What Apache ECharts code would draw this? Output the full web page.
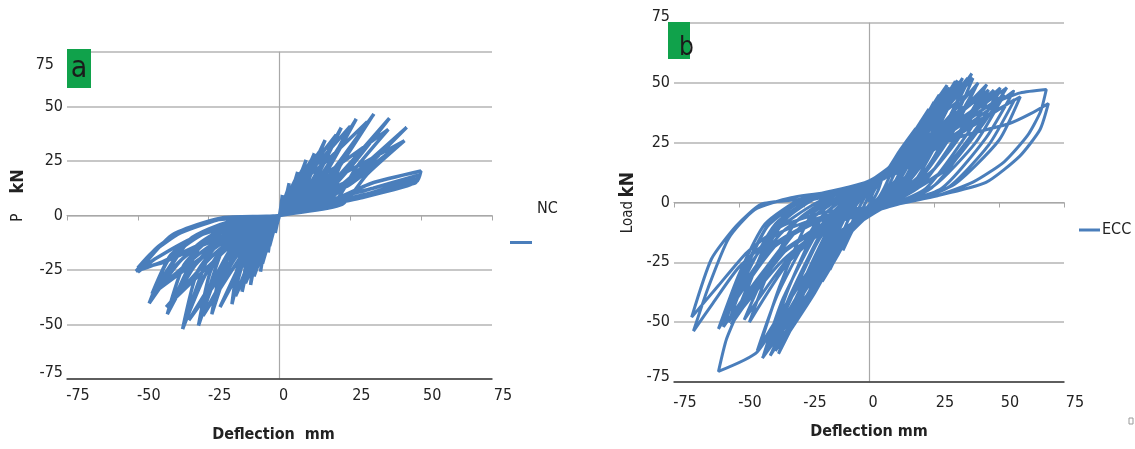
<!DOCTYPE html>
<html>
<head>
<meta charset="utf-8">
<script src="https://cdn.jsdelivr.net/npm/echarts@6/dist/echarts.min.js"></script>
<style>
html,body{margin:0;padding:0;background:#fff;}
#chart{width:1135px;height:449px;}
</style>
</head>
<body>
<div id="chart"></div>
<script>
// ---- data ----
const axisMin = -75, axisMax = 75, axisStep = 25;
const seriesNames = ['NC', 'ECC'];
const panelLetters = ['a', 'b'];
const xTitle = ['Deflection  mm', 'Deflection mm'];

// NC specimen: [deflection mm, load kN], cycle by cycle
const ncCurve = [
[0,0],
[0.5,4],[1,9.4],[0.6,4],[0,0],[-0.6,-2.5],[-1.5,-8],[-0.9,-4],[0,0],
[0.4,3],[0.8,7],[0.5,3],[0,0],[-0.5,-2],[-1.2,-6],[-0.7,-3],[0,0],
[1,2.7],[2,6.7],[3.4,14.8],[2.2,7.4],[1.4,3],[0.5,0.7],[0,0],[-1.2,-0.9],[-2.4,-5.1],[-3.4,-11],[-4,-17],[-3,-8.5],[-1.8,-3.4],[-0.6,-0.7],[0,0],
[0.6,3.8],[1.5,6.6],[3,12],[2.1,6.6],[1.5,1.8],[0,0],[-0.7,-1.7],[-1.6,-4.9],[-3.5,-14],[-2.1,-6.3],[-1,-2.1],[0,0],
[1.9,3.6],[3.8,9],[6.4,20],[4.2,10],[2.6,4],[1,1],[0,0],[-2,-1.3],[-4,-7.7],[-5.7,-16.8],[-6.7,-25.8],[-5,-12.9],[-3,-5.2],[-1,-1],[0,0],
[1.2,5.4],[2.9,9.4],[5.8,17],[4.1,9.4],[2.9,2.6],[0,0],[-1.2,-2.6],[-2.7,-7.7],[-6,-22],[-3.6,-9.9],[-1.8,-3.3],[0,0],
[2.8,4.6],[5.6,11.5],[9.4,25.5],[6.1,12.8],[3.8,5.1],[1.4,1.3],[0,0],[-3.1,-1.6],[-6.1,-9.6],[-8.7,-20.7],[-10.2,-31.9],[-7.7,-16],[-4.6,-6.4],[-1.5,-1.3],[0,0],
[1.7,7],[4.3,12.1],[8.5,22],[6,12.1],[4.3,3.3],[0,0],[-1.8,-3.4],[-4,-9.8],[-9,-28],[-5.4,-12.6],[-2.7,-4.2],[0,0],
[2.4,3.1],[4.2,7.7],[9.4,25.5],[5.2,10.2],[2.8,6.4],[1.1,3.8],[0,0],[-4.1,-2.6],[-7.1,-9.6],[-10.2,-31.9],[-8.7,-16],[-6.1,-7],[-3.1,-1.9],[0,0],
[3.7,5.1],[7.4,12.8],[12.3,28.5],[8,14.3],[4.9,5.7],[1.8,1.4],[0,0],[-4,-1.8],[-7.9,-10.5],[-11.2,-22.8],[-13.2,-35],[-9.9,-17.5],[-5.9,-7],[-2,-1.4],[0,0],
[2.3,8.3],[5.8,14.3],[11.5,26],[8.1,14.3],[5.8,3.9],[0,0],[-2.4,-3.7],[-5.4,-10.9],[-12,-31],[-7.2,-14],[-3.6,-4.7],[0,0],
[3.1,3.4],[5.5,8.6],[12.3,28.5],[6.8,11.4],[3.7,7.1],[1.5,4.3],[0,0],[-5.3,-2.8],[-9.2,-10.5],[-13.2,-35],[-11.2,-17.5],[-7.9,-7.7],[-4,-2.1],[0,0],
[4.8,6.2],[9.7,15.6],[16.1,34.6],[10.5,17.3],[6.4,6.9],[2.4,1.7],[0,0],[-5,-2],[-10.1,-12.2],[-14.3,-26.5],[-16.8,-40.7],[-12.6,-20.4],[-7.6,-8.1],[-2.5,-1.6],[0,0],
[3,9.9],[7.5,17],[15,31],[10.5,17],[7.5,4.7],[0,0],[-3.1,-4.4],[-7,-13],[-15.5,-37],[-9.3,-16.7],[-4.7,-5.6],[0,0],
[4,4.2],[7.2,10.4],[16.1,34.6],[8.9,13.8],[4.8,8.7],[1.9,5.2],[0,0],[-6.7,-3.3],[-11.8,-12.2],[-16.8,-40.7],[-14.3,-20.4],[-10.1,-9],[-5,-2.4],[0,0],
[6.5,7.3],[13.1,18.1],[21.8,40.3],[14.2,20.2],[8.7,8.1],[3.3,2],[0,0],[-7.2,-2.3],[-14.3,-13.6],[-20.3,-29.4],[-23.9,-45.3],[-17.9,-22.7],[-10.8,-9.1],[-3.6,-1.8],[0,0],
[4,11.8],[10,20.4],[20,37],[14,20.4],[10,5.6],[0,0],[-4.2,-5],[-9.5,-14.7],[-21,-42],[-12.6,-18.9],[-6.3,-6.3],[0,0],
[5.5,4.8],[9.8,12.1],[21.8,40.3],[12,16.1],[6.5,10.1],[2.6,6],[0,0],[-9.6,-3.6],[-16.7,-13.6],[-23.9,-45.3],[-20.3,-22.7],[-14.3,-10],[-7.2,-2.7],[0,0],
[8.1,8],[16.3,19.9],[27.1,44.3],[17.6,22.2],[10.8,8.9],[4.1,2.2],[0,0],[-8.6,-2.5],[-17.2,-15.2],[-24.3,-32.8],[-28.6,-50.5],[-21.5,-25.3],[-12.9,-10.1],[-4.3,-2],[0,0],
[5,13.1],[12.5,22.6],[25,41],[17.5,22.6],[12.5,6.2],[0,0],[-5.4,-5.5],[-12.2,-16.1],[-27,-46],[-16.2,-20.7],[-8.1,-6.9],[0,0],
[6.8,5.3],[12.2,13.3],[27.1,44.3],[14.9,17.7],[8.1,11.1],[3.3,6.6],[0,0],[-11.4,-4],[-20,-15.2],[-28.6,-50.5],[-24.3,-25.3],[-17.2,-11.1],[-8.6,-3],[0,0],
[10,8.4],[20,21],[33.3,46.6],[21.6,23.3],[13.3,9.3],[5,2.3],[0,0],[-10.3,-2.6],[-20.5,-15.6],[-29.1,-33.9],[-34.2,-52.1],[-25.7,-26.1],[-15.4,-10.4],[-5.1,-2.1],[0,0],
[6.2,13.8],[15.5,23.7],[31,43],[21.7,23.7],[15.5,6.5],[0,0],[-6.4,-5.8],[-14.4,-16.8],[-32,-48],[-19.2,-21.6],[-9.6,-7.2],[0,0],
[8.3,5.6],[15,14.1],[33.3,46.6],[18.3,18.6],[10,11.7],[4,7],[0,0],[-13.7,-4.2],[-23.9,-15.6],[-34.2,-52.1],[-29.1,-26.1],[-20.5,-11.5],[-10.3,-3.1],[0,0],
[11.6,8],[23.3,20.1],[38.8,44.6],[25.2,22.3],[15.5,8.9],[5.8,2.2],[0,0],[-11.9,-2.3],[-23.8,-13.6],[-33.7,-29.4],[-39.6,-45.3],[-29.7,-22.7],[-17.8,-9.1],[-5.9,-1.8],[0,0],
[7.7,12.6],[19.2,21.7],[38.4,39.5],[26.9,21.7],[19.2,5.9],[0,0],[-8,-5],[-18,-14.7],[-40,-42],[-24,-18.9],[-12,-6.3],[0,0],
[9.7,5.4],[17.5,13.4],[38.8,44.6],[21.3,17.8],[11.6,11.2],[4.7,6.7],[0,0],[-15.8,-3.6],[-27.7,-13.6],[-39.6,-45.3],[-33.7,-22.7],[-23.8,-10],[-11.9,-2.7],[0,0],
[13.5,7.3],[26.9,18.2],[44.9,40.5],[29.2,20.3],[18,8.1],[6.7,2],[0,0],[-13.8,-2],[-27.6,-12.1],[-39.1,-26.2],[-46,-40.3],[-34.5,-20.2],[-20.7,-8.1],[-6.9,-1.6],[0,0],
[8.8,11],[22,18.9],[44.1,34.3],[30.9,18.9],[22,5.1],[0,0],[-9,-4.3],[-20.3,-12.6],[-45,-36],[-27,-16.2],[-13.5,-5.4],[0,0],
[11.2,4.9],[20.2,12.2],[44.9,40.5],[24.7,16.2],[13.5,10.1],[5.4,6.1],[0,0],[-18.4,-3.2],[-32.2,-12.1],[-46,-40.3],[-39.1,-20.2],[-27.6,-8.9],[-13.8,-2.4],[0,0],
[11,4.1],[19.8,10.3],[44.1,34.3],[24.3,13.7],[13.2,8.6],[5.3,5.1],[0,0],[-18,-2.9],[-31.5,-10.8],[-45,-36],[-38.3,-18],[-27,-7.9],[-13.5,-2.2],[0,0],
[17,6],[32.5,14.8],[49.9,20.4],[48.5,15.8],[30,9.6],[15,4.8],[0,0],[-20,-1],[-34,-6.6],[-43.5,-15],[-50.6,-25.5],[-41,-21],[-25.7,-12],[-8,-4.4],[0,0],
[20,8],[33,12.5],[49,18.5],[48,15],[28,9],[0,0],[-20,-1.5],[-35,-8],[-45,-17],[-50,-24],[-42,-22],[-26,-13],[-9,-5],[0,0],
[18,5.5],[34,11],[48,17],[46,14],[30,8.5],[14,4],[0,0],[-22,-2],[-38,-9],[-50,-26],[-44,-20],[-30,-10],[-12,-3],[0,0]
];

// ECC specimen: [deflection mm, load kN], cycle by cycle
const eccCurve = [
[0,0],
[2,5],[5,10],[3.5,5],[1.5,1],[0,-1],[-2,-4],[-5,-10],[-3.5,-5],[-1.5,-0.5],[0,3],
[3,7],[6,11],[10,18],[7.5,10],[4,2.5],[0,-2],[-3,-6],[-6.5,-12],[-10,-20],[-7.5,-11],[-4,-2.5],[0,5],
[4,9],[9,15],[15,26],[11,15],[6,4],[0,-2.5],[-4.5,-7],[-9.5,-16],[-15,-28],[-11,-15],[-6,-3],[0,6],
[5,10],[12,19],[20,34],[15,20],[8,5],[0,-3],[-6,-8],[-13,-20],[-20,-36],[-15,-20],[-8,-4],[-2,3],[0,7],
[6,12],[12,22],[18,31],[14,16],[8,4],[0,-3],[-6,-10],[-12,-22],[-18,-33],[-14,-16],[-7,-2],[0,7],
[6,11],[15,23],[25,42],[19,25],[10,6],[0,-3],[-7,-9],[-16,-25],[-25,-44],[-19,-25],[-10,-5],[-3,3],[0,8],
[6,12],[14,24],[23,39],[18,22],[11,8],[2,-2],[-7,-11],[-15,-26],[-23,-41],[-18,-22],[-10,-3],[0,8],
[7,12],[18,26],[29,47],[22,28],[12,7],[0,-3.5],[-8,-10],[-19,-29],[-30,-52],[-23,-31],[-12,-6],[-4,3],[0,8],
[8,14],[17,28],[27,45],[21,24],[12,6],[2,-3],[-9,-14],[-18,-30],[-28,-49],[-22,-27],[-13,-5],[-4,4],[0,8.5],
[6,10],[16,27],[30,49],[24,33],[14,14],[4,2],[0,-3],[-8,-12],[-20,-34],[-36,-62],[-29,-42],[-17,-16],[-6,0],[0,7],
[7,12.5],[20,28],[33.2,50.7],[25,31],[14,8],[0,-4],[-9,-12],[-22,-36],[-34.8,-63.2],[-27,-40],[-14,-8],[-5,3],[0,8.5],
[8,15],[19,31],[31,48],[24,27],[15,10],[2,-3],[-9,-15],[-21,-38],[-33,-58],[-26,-35],[-15,-10],[-5,3],[0,9],
[7,11],[18,27],[34,51],[28,36],[18,16],[6,1],[0,-3.5],[-9,-13],[-22,-37],[-38,-64],[-30,-45],[-18,-18],[-7,1],[0,8],
[8,13],[22,30],[36,52],[27,32],[15,8],[0,-4],[-10,-12],[-24,-36],[-38,-60],[-30,-38],[-16,-8],[-6,3],[0,8.5],
[9,13],[24,31],[39.5,53.9],[30,33],[17,8],[0,-4],[-11,-13],[-27,-38],[-40.6,-64],[-33,-40],[-18,-9],[-7,3],[0,9],
[9,14],[22,33],[37,50],[28,29],[17,11],[3,-2],[-10,-15],[-25,-41],[-39,-62],[-31,-36],[-18,-6],[-7,4],[0,9],
[8,12],[21,29],[38,52],[31,36],[20,15],[7,2],[0,-3],[-10,-14],[-24,-39],[-41,-65],[-32,-45],[-20,-17],[-8,2],[0,8.5],
[10,13],[26,30],[42,50],[32,31],[18,7],[2,-3],[-12,-13],[-28,-36],[-43,-62],[-35,-38],[-20,-8],[-8,3],[0,9],
[10,15],[25,34],[41,48],[31,27],[19,9],[4,-2],[-12,-16],[-27,-40],[-42,-60],[-34,-34],[-22,-5],[-9,4],[0,9],
[9,12],[23,31],[40,52],[33,35],[22,14],[8,1],[0,-3],[-12,-7],[-30,-22],[-48,-49],[-40,-30],[-28,-12],[-14,0],[0,8],
[11,13],[28,30],[45.3,49.3],[35,30],[20,7],[3,-3],[-14,-8],[-34,-22],[-51.5,-48],[-44,-28],[-34,-8],[-22,1.5],[0,8.5],
[10,14],[26,31],[44,46],[34,26],[20,8],[3,-3],[-15,-9],[-33,-24],[-50,-46],[-43,-26],[-32,-7],[-20,2],[0,8.5],
[10,12],[27,30],[46,47],[38,33],[25,14],[9,1],[0,-3],[-13,-6],[-32,-20],[-53,-51],[-44,-34],[-30,-14],[-15,-1],[0,8],
[12,13],[30,29],[48,47],[38,29],[22,6],[4,-3],[-14,-9],[-31,-25],[-46,-50],[-39,-30],[-28,-8],[-15,2],[0,8.5],
[11,13],[30,31],[50,46],[42,32],[28,13],[10,1],[0,-3],[-14,-5],[-35,-17],[-55,-47],[-47,-32],[-33,-12],[-17,-0.5],[0,8],
[13,14],[32,30],[50.5,47.9],[40,28],[24,6],[4,-3],[-15,-6],[-36,-18],[-56,-48.6],[-48,-28],[-38,-8],[-25,1.5],[0,8.5],
[12,14],[31,29],[52,45],[41,25],[25,7],[4,-3],[-15,-8],[-35,-22],[-54,-50],[-47,-30],[-36,-9],[-22,1.5],[0,8.5],
[12,14],[33,32],[53,48],[44,33],[30,14],[12,2],[0,-3],[-15,-5],[-37,-18],[-57,-50],[-50,-33],[-36,-12],[-20,0],[0,8.5],
[14,14],[35,30],[55.6,46.5],[45,27],[28,6],[5,-2.5],[-16,-6],[-38,-20],[-57.9,-52.8],[-50,-30],[-40,-9],[-26,1.5],[0,8.5],
[14,15],[34,28],[56,43],[46,24],[30,6],[5,-2.5],[-16,-8],[-37,-24],[-56,-52],[-49,-32],[-39,-10],[-25,1],[0,8.5],
[15,15],[37,31],[58.2,44.2],[50,26],[32,7],[6,-2],[-12.5,-15.5],[-27.9,-36.4],[-43,-62.5],[-57.9,-70.6],[-54.8,-57],[-48.3,-40.3],[-40,-18],[-30,-2],[-15,3],[0,9],
[20,20],[35,33],[49,42],[58.2,45.8],[68.2,47.2],[66,38],[61,28],[52,17],[40,8.5],[25,2.5],[0,-2],[-16.7,-4],[-33.2,-9.7],[-46.9,-20.8],[-57.9,-34.7],[-68.2,-47.9],[-60.6,-23.6],[-51,-9.7],[-41.4,-0.7],[-26.3,1.4],[0,8.8],
[8,12.5],[22,22],[36,27.8],[54,33],[62,37],[69,41.4],[65.8,30.5],[58,19.4],[45,8.4],[26,2.8],[0,-3],[-18,-6],[-35,-13],[-50,-27],[-60,-42],[-67.5,-53.7],[-62,-36],[-54,-15],[-44,-3],[-30,2],[-10,5],[0,6]
];

// ---- styling ----
const FONT = "'Liberation Sans Narrow','DejaVu Sans Condensed','Liberation Sans',sans-serif";
const BLUE = '#4a7ebb';
const GRIDC = '#b4b4b4';
const TXT = '#222';
const GREEN = '#10a24b';

function xLabelCfg(margin) {
  const base = {fontFamily: FONT, fontSize: 16, color: TXT};
  return {
    margin: margin, fontFamily: FONT, fontSize: 16, color: TXT,
    formatter: v => v === 0 ? '{z|0}' : '{n|' + v + '}',
    rich: {
      n: Object.assign({padding: [0, 0, 0, 22]}, base),
      z: Object.assign({padding: [0, 0, 0, 8]}, base)
    }
  };
}
function yLabelCfg(topPad, bottomPad) {
  const base = {fontFamily: FONT, fontSize: 16, color: TXT};
  return {
    margin: 4, fontFamily: FONT, fontSize: 16, color: TXT,
    formatter: v => v === axisMax ? '{t|' + v + '}' : (v === axisMin ? '{b|' + v + '}' : '{n|' + v + '}'),
    rich: {
      n: Object.assign({}, base),
      t: Object.assign({padding: topPad}, base),
      b: Object.assign({padding: bottomPad}, base)
    }
  };
}
function labelXAxis(grid, margin, name, nameGap, namePad) {
  return {
    gridIndex: grid, type: 'value', min: axisMin, max: axisMax, interval: axisStep,
    position: 'bottom',
    axisLine: {onZero: false, lineStyle: {color: '#3c3c3c', width: 1.5}},
    axisTick: {show: false}, splitLine: {show: false},
    axisLabel: xLabelCfg(margin),
    name: name, nameLocation: 'middle', nameGap: nameGap,
    nameTextStyle: {fontFamily: FONT, fontSize: 16, fontWeight: 'bold', color: TXT, padding: namePad}
  };
}
function zeroXAxis(grid) {
  return {
    gridIndex: grid, type: 'value', min: axisMin, max: axisMax, interval: axisStep,
    position: 'bottom',
    axisLine: {onZero: true, lineStyle: {color: '#a8a8a8', width: 1.2}},
    axisTick: {show: true, length: 5, lineStyle: {color: '#a8a8a8'}},
    axisLabel: {show: false}, splitLine: {show: false}
  };
}
function labelYAxis(grid, labelCfg, name, nameGap, nameStyle) {
  return {
    gridIndex: grid, type: 'value', min: axisMin, max: axisMax, interval: axisStep,
    axisLine: {show: false, onZero: false}, axisTick: {show: false},
    splitLine: {show: true, lineStyle: {color: GRIDC, width: 1.5}},
    axisLabel: labelCfg,
    name: name, nameLocation: 'middle', nameGap: nameGap, nameTextStyle: nameStyle
  };
}
function zeroYAxis(grid) {
  return {
    gridIndex: grid, type: 'value', min: axisMin, max: axisMax, interval: axisStep,
    axisLine: {show: true, onZero: true, lineStyle: {color: '#a8a8a8', width: 1.2}},
    axisTick: {show: false}, axisLabel: {show: false}, splitLine: {show: false}
  };
}

const chart = echarts.init(document.getElementById('chart'), null, {renderer: 'canvas'});
chart.setOption({
  animation: false,
  backgroundColor: '#fff',
  grid: [
    {left: 67, top: 52, width: 425, height: 327},
    {left: 674, top: 23, width: 390, height: 359}
  ],
  xAxis: [
    labelXAxis(0, 9, xTitle[0], 48, [0, 12, 0, 0]),
    labelXAxis(1, 13, xTitle[1], 42, [0, 0, 0, 0]),
    zeroXAxis(0),
    zeroXAxis(1)
  ],
  yAxis: [
    labelYAxis(0, yLabelCfg([26, 9, 0, 0], [0, 0, 13, 0]),
      '{p|P}{g|}{k|kN}', 40,
      {padding: [0, 0, 0, 40], rich: {
        p: {fontFamily: FONT, fontSize: 15, color: TXT},
        g: {width: 20},
        k: {fontFamily: FONT, fontSize: 18, fontWeight: 'bold', color: TXT}
      }}),
    labelYAxis(1, yLabelCfg([0, 0, 12, 0], [0, 0, 10, 0]),
      '{l|Load} {k|kN}', 36,
      {rich: {
        l: {fontFamily: FONT, fontSize: 15, color: TXT},
        k: {fontFamily: FONT, fontSize: 19, fontWeight: 'bold', color: TXT}
      }}),
    zeroYAxis(0),
    zeroYAxis(1)
  ],
  series: [
    {name: seriesNames[0], type: 'line', xAxisIndex: 0, yAxisIndex: 0, data: ncCurve,
     showSymbol: false, smooth: 0.2, lineStyle: {color: BLUE, width: 3.5}, itemStyle: {color: BLUE}, z: 3},
    {name: seriesNames[1], type: 'line', xAxisIndex: 1, yAxisIndex: 1, data: eccCurve,
     showSymbol: false, smooth: 0.2, lineStyle: {color: BLUE, width: 3}, itemStyle: {color: BLUE}, z: 3}
  ],
  graphic: [
    {type: 'rect', shape: {x: 67, y: 49, width: 24, height: 39}, style: {fill: GREEN}, z: 10},
    {type: 'text', x: 79, y: 69, style: {text: panelLetters[0], font: '30px ' + FONT, fill: '#1b1b1b', align: 'center', verticalAlign: 'middle'}, z: 11},
    {type: 'rect', shape: {x: 668, y: 22, width: 22, height: 37}, style: {fill: GREEN}, z: 10},
    {type: 'text', x: 686.5, y: 48, style: {text: panelLetters[1], font: '26px ' + FONT, fill: '#1b1b1b', align: 'center', verticalAlign: 'middle'}, z: 11},
    {type: 'line', shape: {x1: 510, y1: 242.5, x2: 532, y2: 242.5}, style: {stroke: BLUE, lineWidth: 3}},
    {type: 'text', x: 537, y: 209, style: {text: seriesNames[0], font: '16px ' + FONT, fill: TXT, verticalAlign: 'middle'}},
    {type: 'line', shape: {x1: 1079, y1: 230, x2: 1100, y2: 230}, style: {stroke: BLUE, lineWidth: 3}},
    {type: 'text', x: 1102, y: 230, style: {text: seriesNames[1], font: '16px ' + FONT, fill: TXT, verticalAlign: 'middle'}},
    {type: 'rect', shape: {x: 1129, y: 418, width: 4, height: 6}, style: {fill: 'none', stroke: '#9a9a9a', lineWidth: 1}}
  ]
});
</script>
</body>
</html>
